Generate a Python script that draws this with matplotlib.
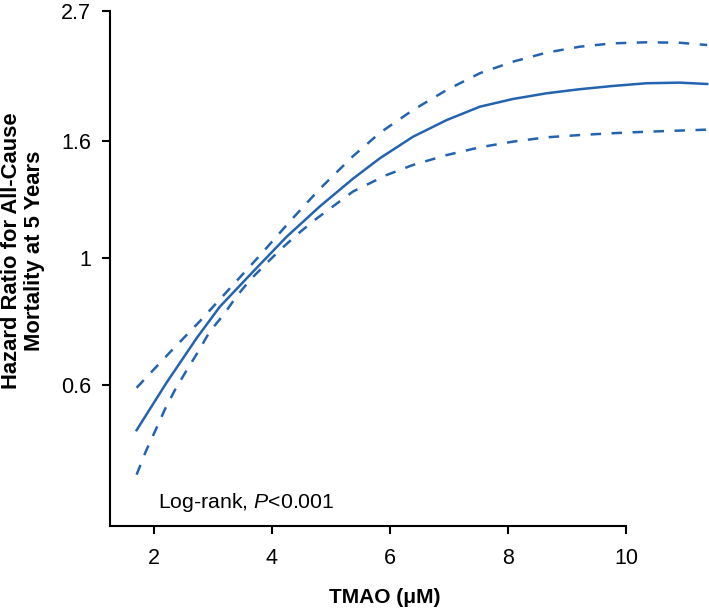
import matplotlib
matplotlib.use("Agg")
import matplotlib.pyplot as plt

plt.rcParams["font.family"] = ["Liberation Sans", "DejaVu Sans"]
plt.rcParams["mathtext.fontset"] = "custom"
plt.rcParams["mathtext.rm"] = "Liberation Sans"
plt.rcParams["mathtext.it"] = "Liberation Sans:italic"

# values (TMAO in uM, hazard ratio, log y axis)
hr_x = [1.71, 2.22, 2.73, 3.12, 3.68, 4.25, 4.81, 5.37, 5.83, 6.39, 6.96,
        7.52, 8.08, 8.65, 9.21, 9.77, 10.34, 10.90, 11.37]
hr_mid = [0.50, 0.606, 0.725, 0.822, 0.946, 1.089, 1.23, 1.375, 1.494, 1.629,
          1.742, 1.838, 1.896, 1.940, 1.972, 1.998, 2.020, 2.025, 2.014]

up_x = [1.71, 2.28, 2.78, 3.29, 3.83, 4.31, 4.81, 5.37, 5.83, 6.39, 6.96,
        7.52, 8.08, 8.65, 9.21, 9.77, 10.34, 10.90, 11.37]
hr_up = [0.593, 0.685, 0.775, 0.885, 1.019, 1.160, 1.320, 1.505, 1.655, 1.814,
         1.966, 2.103, 2.203, 2.285, 2.340, 2.372, 2.382, 2.378, 2.356]

lo_x = [1.71, 1.87, 2.05, 2.19, 2.36, 2.56, 2.75, 2.95, 3.18, 3.40, 3.63,
        3.91, 4.17, 4.45, 4.73, 5.37, 5.94, 6.39, 6.96, 7.52, 8.08, 8.65,
        9.21, 9.77, 10.34, 11.37]
hr_lo = [0.418, 0.460, 0.505, 0.544, 0.588, 0.637, 0.685, 0.744, 0.795, 0.856,
         0.915, 0.979, 1.040, 1.104, 1.166, 1.306, 1.396, 1.454, 1.513, 1.561,
         1.597, 1.625, 1.640, 1.652, 1.662, 1.676]

x_ticks = [2, 4, 6, 8, 10]
y_ticks = [0.6, 1, 1.6, 2.7]
y_ticklabels = ["0.6", "1", "1.6", "2.7"]

blue = "#2463b0"

fig = plt.figure(figsize=(7.09, 6.08), dpi=100)
ax = fig.add_axes([110 / 709, 82 / 608, 599 / 709, (526 - 6.6) / 608])

ax.plot(hr_x, hr_mid, color=blue, lw=1.8)
ax.plot(up_x, hr_up, color=blue, lw=1.8, dashes=(4.2, 4.2))
ax.plot(lo_x, hr_lo, color=blue, lw=1.8, dashes=(4.2, 4.2))

ax.set_yscale("log")
ax.set_xlim(1.26, 11.4)
ax.set_ylim(0.34, 2.75)
ax.set_xticks(x_ticks)
ax.set_xticklabels([str(t) for t in x_ticks])
ax.set_yticks(y_ticks)
ax.set_yticklabels(y_ticklabels)
ax.yaxis.set_minor_locator(matplotlib.ticker.NullLocator())

for side in ["top", "right"]:
    ax.spines[side].set_visible(False)
for side in ["left", "bottom"]:
    ax.spines[side].set_linewidth(1.5)
ax.spines["left"].set_bounds(0.34, 2.7)
ax.spines["bottom"].set_bounds(1.26, 10)
ax.tick_params(axis="both", length=5.5, width=1.5, labelsize=15.5, direction="out")
ax.tick_params(axis="x", pad=10.5)
ax.tick_params(axis="y", pad=8)

fig.text(158 / 709, 1 - 502 / 608, "Log-rank, $\\mathit{P}$<0.001",
         ha="left", va="center", fontsize=15.3)

fig.text(23 / 709, 1 - 251 / 608, "Hazard Ratio for All-Cause\nMortality at 5 Years",
         rotation=90, ha="center", va="center", fontsize=15.8, fontweight="bold",
         multialignment="center", linespacing=1.1)
fig.text(385 / 709, 1 - 603 / 608, "TMAO (\u03bcM)", ha="center", va="baseline",
         fontsize=15, fontweight="bold")

fig.savefig("out.png", dpi=100)
